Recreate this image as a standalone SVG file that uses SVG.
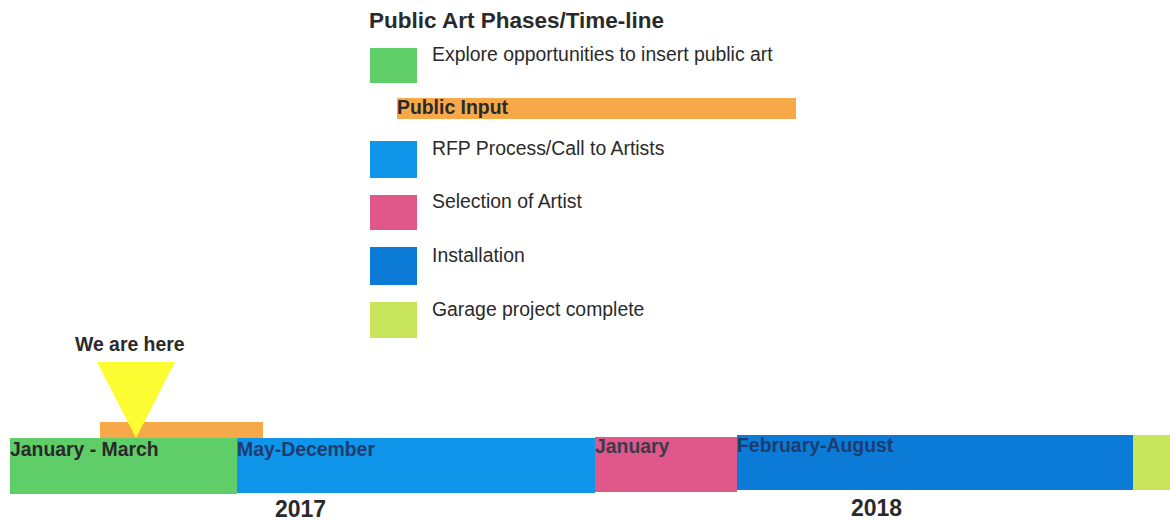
<svg xmlns="http://www.w3.org/2000/svg" width="1170" height="522" viewBox="0 0 1170 522">
<style>
text{font-family:"Liberation Sans",Arial,sans-serif;fill:#2a2a2a}
.t{font-weight:bold;font-size:22.5px}
.l{font-size:19.4px}
.b{font-weight:bold;font-size:19.4px}
.bar{font-weight:bold;font-size:19.4px}
.y{font-weight:bold;font-size:23px}
</style>
<rect width="1170" height="522" fill="#ffffff"/>
<g id="legend">
<text class="t" x="369" y="28">Public Art Phases/Time-line</text>
<g id="leg-explore"><rect x="370" y="48" width="47" height="35" fill="#5fcd68"/><text class="l" x="432" y="61">Explore opportunities to insert public art</text></g>
<g id="leg-input"><rect x="397" y="98" width="399" height="21" fill="#f7a94a"/><text class="b" x="397" y="114">Public Input</text></g>
<g id="leg-rfp"><rect x="370" y="141" width="47" height="37" fill="#0f95ea"/><text class="l" x="432" y="155">RFP Process/Call to Artists</text></g>
<g id="leg-selection"><rect x="370" y="195" width="47" height="35" fill="#e0578a"/><text class="l" x="432" y="208">Selection of Artist</text></g>
<g id="leg-install"><rect x="370" y="247" width="47" height="38" fill="#0b7bd7"/><text class="l" x="432" y="262">Installation</text></g>
<g id="leg-garage"><rect x="370" y="302" width="47" height="36" fill="#c8e45a"/><text class="l" x="432" y="316">Garage project complete</text></g>
</g>
<g id="timeline">
<rect x="100" y="422" width="163" height="20" fill="#f7a94a"/>
<rect x="10" y="438" width="227" height="56" fill="#5fcd68"/>
<rect x="237" y="438" width="358" height="55" fill="#0f95ea"/>
<rect x="595" y="437" width="142" height="55" fill="#e0578a"/>
<rect x="737" y="435" width="396" height="55" fill="#0b7bd7"/>
<rect x="1133" y="435" width="37" height="55" fill="#c8e45a"/>
<text class="bar" x="10" y="456">January - March</text>
<text class="bar" x="237" y="456" style="fill:#1d3d70">May-December</text>
<text class="bar" x="595" y="453" style="fill:#3a3a4a">January</text>
<text class="bar" x="737" y="452" style="fill:#1d3d70">February-August</text>
<text class="y" x="275" y="517">2017</text>
<text class="y" x="851" y="516">2018</text>
</g>
<g id="marker">
<text class="b" x="75" y="351">We are here</text>
<polygon points="97,362 175,362 136,438" fill="#fcfc33"/>
</g>
</svg>
